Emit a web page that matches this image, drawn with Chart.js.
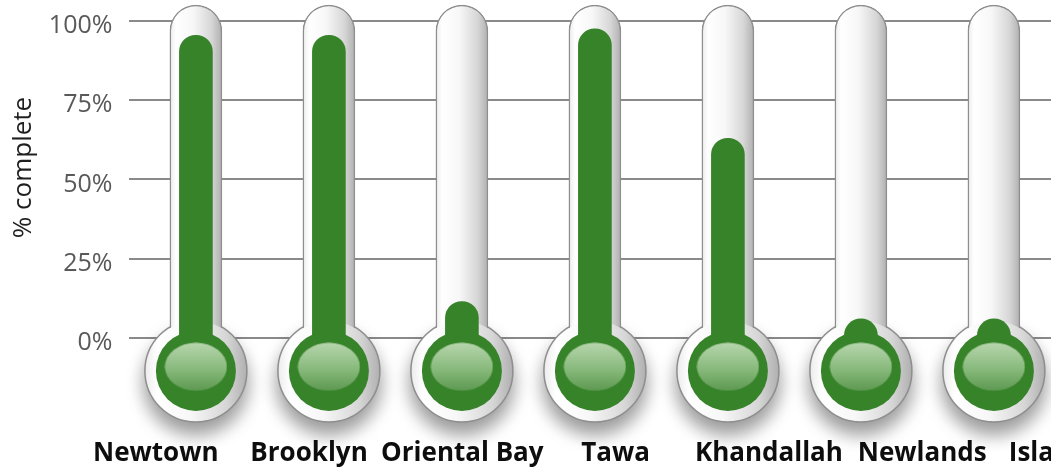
<!DOCTYPE html>
<html>
<head>
<meta charset="utf-8">
<title>Progress by suburb</title>
<script src="https://cdn.jsdelivr.net/npm/chart.js@4"></script>
<style>
  html, body { margin: 0; padding: 0; background: #ffffff; overflow: hidden; }
  #wrap { width: 1080px; height: 473px; }
</style>
</head>
<body>
<div id="wrap"><canvas id="chart" width="1080" height="473"></canvas></div>
<script>
// ---- data ----
const categories = ['Newtown', 'Brooklyn', 'Oriental Bay', 'Tawa', 'Khandallah', 'Newlands', 'Island Bay'];
const percentComplete = [95.5, 95.5, 11.5, 97.5, 63, 6, 6];
const tickValues = [0, 25, 50, 75, 100];
const tickLabels = ['0%', '25%', '50%', '75%', '100%'];
const axisTitle = '% complete';

// ---- thermometer geometry (value-axis units) ----
const BULB_LEVEL = -10.4;      // centre of the bulb, below the zero line
const HIGHLIGHT_LEVEL = -9.1;  // glossy highlight sits slightly above bulb centre
const TUBE_TOP = 105;          // glass tube runs a little above 100%

const GREEN = '#37832a';
const GLASS_EDGE = '#8e8e8e';

// horizontal gradient centred on a category
function hGradient(context, half, stops, fallback) {
  if (context.dataIndex === undefined) return fallback;
  const chart = context.chart;
  const x = chart.scales && chart.scales.x;
  if (!x) return fallback;
  const cx = x.getPixelForValue(context.dataIndex);
  if (!isFinite(cx)) return fallback;
  const g = chart.ctx.createLinearGradient(cx - half, 0, cx + half, 0);
  stops.forEach(([o, c]) => g.addColorStop(o, c));
  return g;
}
const glassStops = [[0, '#ececec'], [0.12, '#ffffff'], [0.45, '#f7f7f7'], [0.8, '#d6d6d6'], [1, '#b0b0b0']];

// glossy oval used as a point style on the liquid bulb
function makeHighlight(w, h) {
  const c = document.createElement('canvas');
  c.width = w; c.height = h;
  const g = c.getContext('2d');
  const grad = g.createLinearGradient(0, 0, 0, h);
  grad.addColorStop(0, 'rgba(184,214,174,1)');
  grad.addColorStop(0.55, 'rgba(136,186,124,1)');
  grad.addColorStop(1, 'rgba(92,152,80,1)');
  g.fillStyle = grad;
  g.beginPath();
  g.ellipse(w / 2, h / 2, w / 2 - 0.5, h / 2 - 0.5, 0, 0, Math.PI * 2);
  g.fill();
  return c;
}
const highlight = makeHighlight(63, 49);

// soft drop shadow under the glass bulbs
const bulbShadow = {
  id: 'bulbShadow',
  beforeDatasetDraw(chart, args) {
    if (chart.data.datasets[args.index].label !== 'glass bulb') return;
    const ctx = chart.ctx;
    ctx.save();
    ctx.shadowColor = 'rgba(0,0,0,0.4)';
    ctx.shadowBlur = 18;
    ctx.shadowOffsetY = 12;
  },
  afterDatasetDraw(chart, args) {
    if (chart.data.datasets[args.index].label !== 'glass bulb') return;
    chart.ctx.restore();
  }
};

// category names under the bulbs and the rotated value-axis caption
const captions = {
  id: 'captions',
  afterDraw(chart, args, opts) {
    const { ctx, scales: { x } } = chart;
    ctx.save();
    ctx.font = opts.labelFont;
    ctx.fillStyle = opts.labelColor;
    ctx.textAlign = 'center';
    ctx.textBaseline = 'alphabetic';
    chart.data.labels.forEach((label, i) => {
      const px = x.getPixelForValue(i);
      ctx.fillText(label, opts.pivot + opts.spread * (px - opts.pivot), opts.baseline);
    });
    ctx.restore();

    ctx.save();
    ctx.translate(opts.titleX, opts.titleY);
    ctx.rotate(-Math.PI / 2);
    ctx.font = opts.titleFont;
    ctx.fillStyle = opts.titleColor;
    ctx.textAlign = 'center';
    ctx.textBaseline = 'middle';
    ctx.fillText(axisTitle, 0, 0);
    ctx.restore();
  }
};

const atBulb = categories.map(() => BULB_LEVEL);

new Chart(document.getElementById('chart'), {
  type: 'bar',
  data: {
    labels: categories,
    datasets: [
      {
        type: 'line', label: 'glass bulb', data: atBulb, showLine: false, order: 6, clip: false,
        pointRadius: 51, pointBorderWidth: 1.5, pointBorderColor: GLASS_EDGE,
        pointBackgroundColor: c => hGradient(c, 51, glassStops, '#f0f0f0')
      },
      {
        type: 'bar', label: 'glass tube', data: categories.map(() => TUBE_TOP), base: BULB_LEVEL,
        order: 5, clip: false, grouped: false, barThickness: 52,
        borderSkipped: false,
        borderWidth: { left: 1.5, right: 1.5, top: 1.5, bottom: 0 },
        borderColor: GLASS_EDGE,
        borderRadius: { topLeft: 26, topRight: 26, bottomLeft: 0, bottomRight: 0 },
        backgroundColor: c => hGradient(c, 26, glassStops, '#f0f0f0')
      },
      {
        type: 'line', label: 'bulb glass fill', data: atBulb, showLine: false, order: 4, clip: false,
        pointRadius: 49.8, pointBorderWidth: 0,
        pointBackgroundColor: c => hGradient(c, 51, glassStops, '#f0f0f0')
      },
      {
        type: 'bar', label: 'Complete', data: percentComplete, base: BULB_LEVEL,
        order: 3, clip: false, grouped: false, barThickness: 33,
        borderSkipped: false, borderWidth: 0,
        borderRadius: { topLeft: 16.5, topRight: 16.5, bottomLeft: 0, bottomRight: 0 },
        backgroundColor: GREEN
      },
      {
        type: 'line', label: 'liquid bulb', data: atBulb, showLine: false, order: 2, clip: false,
        pointRadius: 40, pointBorderWidth: 0, pointBackgroundColor: GREEN
      },
      {
        type: 'line', label: 'gloss', data: categories.map(() => HIGHLIGHT_LEVEL), showLine: false,
        order: 1, clip: false, pointRadius: 30, pointStyle: highlight
      }
    ]
  },
  options: {
    responsive: false,
    animation: false,
    events: [],
    layout: { autoPadding: false, padding: { left: 48.4, top: 21, right: 19.6, bottom: 40 } },
    scales: {
      x: { display: false, offset: true },
      y: {
        min: -30, max: 100,
        afterBuildTicks: s => { s.ticks = tickValues.map(v => ({ value: v })); },
        afterFit: s => { s.width = 81; s.paddingTop = 0; s.paddingBottom = 0; },
        border: { display: false },
        grid: { color: '#8a8a8a', lineWidth: 2, drawTicks: false },
        ticks: {
          padding: 17,
          labelOffset: 5,
          color: '#595959',
          font: { family: '"Open Sans", sans-serif', size: 25 },
          callback: v => tickLabels[tickValues.indexOf(v)]
        }
      }
    },
    plugins: {
      legend: { display: false },
      tooltip: { enabled: false },
      captions: {
        labelFont: 'bold 26px "Open Sans", sans-serif',
        labelColor: '#0d0d0d',
        pivot: 459, spread: 1.1526, baseline: 461,
        titleFont: '26px "Open Sans", sans-serif',
        titleColor: '#1f1f1f',
        titleX: 23.5, titleY: 167.5
      }
    }
  },
  plugins: [bulbShadow, captions]
});
</script>
</body>
</html>
